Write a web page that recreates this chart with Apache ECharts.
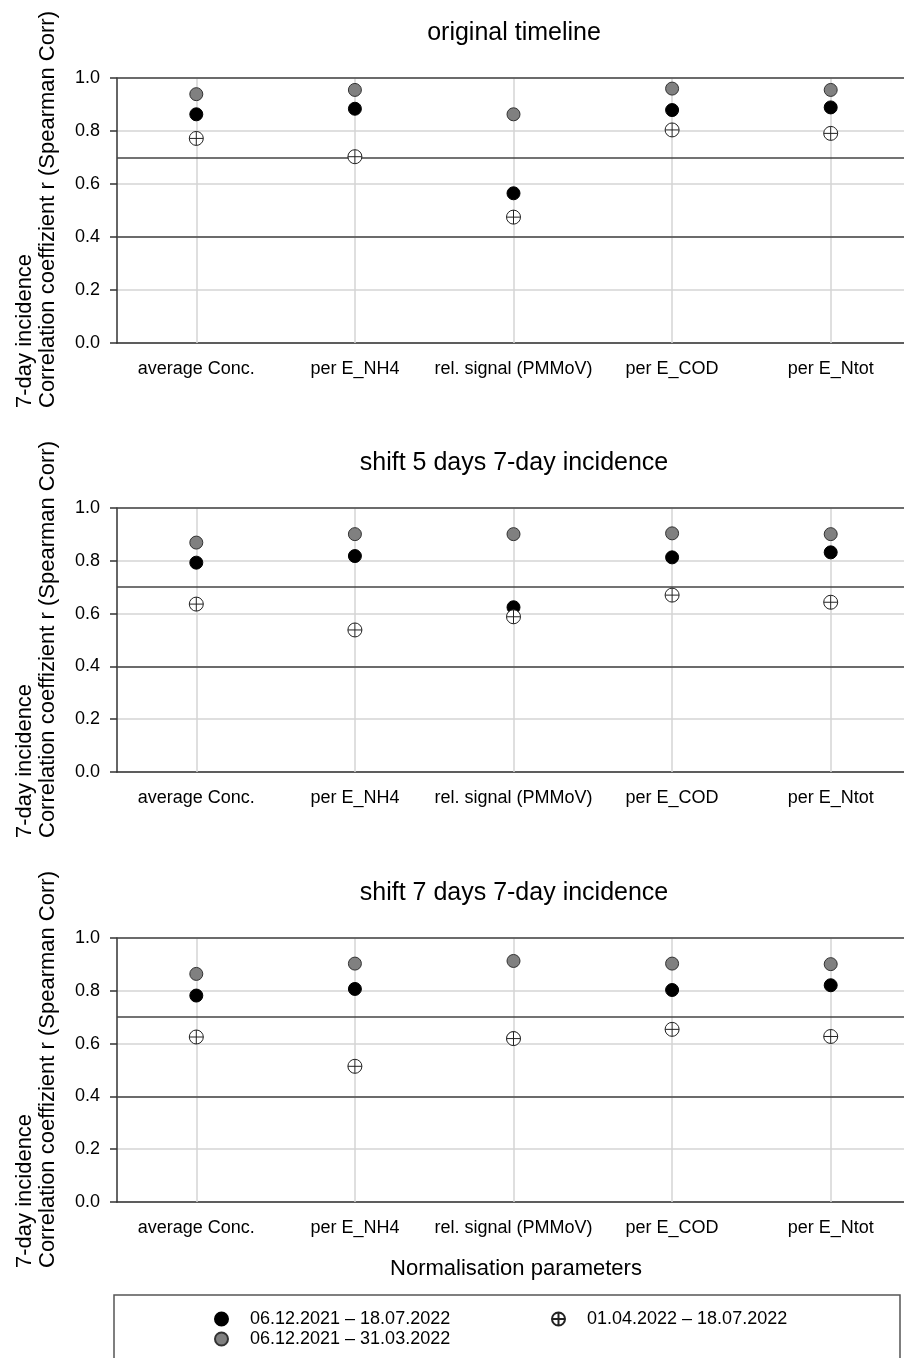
<!DOCTYPE html>
<html>
<head>
<meta charset="utf-8">
<script src="https://cdn.jsdelivr.net/npm/echarts@6/dist/echarts.min.js"></script>
<style>
  html, body { margin: 0; padding: 0; background: #fff; }
  #main { width: 904px; height: 1358px; }
</style>
</head>
<body>
<div id="main"></div>
<script>
// categories and panel titles
var categories = ['average Conc.', 'per E_NH4', 'rel. signal (PMMoV)', 'per E_COD', 'per E_Ntot'];
var panelTitles = ['original timeline', 'shift 5 days 7-day incidence', 'shift 7 days 7-day incidence'];
var refLines = [0.4, 0.7, 1.0];

// legend names
var nameFull = '06.12.2021 \u2013 18.07.2022';
var nameFirst = '06.12.2021 \u2013 31.03.2022';
var nameSecond = '01.04.2022 \u2013 18.07.2022';

// values, one row per panel
var fullPeriod = [
	[0.863, 0.884, 0.565, 0.879, 0.889],
	[0.793, 0.818, 0.624, 0.813, 0.832],
	[0.782, 0.807, 0.620, 0.803, 0.821]
];
var firstPeriod = [
	[0.939, 0.955, 0.863, 0.960, 0.955],
	[0.869, 0.901, 0.901, 0.904, 0.901],
	[0.864, 0.903, 0.913, 0.903, 0.901]
];
var secondPeriod = [
	[0.772, 0.703, 0.475, 0.804, 0.791],
	[0.636, 0.538, 0.588, 0.670, 0.643],
	[0.625, 0.514, 0.619, 0.654, 0.627]
];

var FONT = '"Liberation Sans", Arial, sans-serif';
var crossPath = 'path://M1,11 A10,10 0 1,1 21,11 A10,10 0 1,1 1,11 Z M1,11 L21,11 M11,1 L11,21';
var gridTops = [78, 508, 938];
var gridHeights = [265, 264, 264];

var myChart = echarts.init(document.getElementById('main'));

var grids = [], xAxes = [], yAxes = [], series = [], titles = [], graphics = [];
for (var i = 0; i < 3; i++) {
	grids.push({ left: 117, width: 793, top: gridTops[i], height: gridHeights[i], outerBoundsMode: 'none', containLabel: false });
	titles.push({
		text: panelTitles[i],
		left: 514,
		textAlign: 'center',
		top: gridTops[i] - 57,
		padding: 0,
		textStyle: { fontFamily: FONT, fontSize: 25, fontWeight: 'normal', color: '#000' }
	});
	xAxes.push({
		type: 'category',
		gridIndex: i,
		data: categories,
		axisLine: { lineStyle: { color: '#333', width: 1.5 } },
		axisTick: { alignWithLabel: true, length: 7, lineStyle: { color: '#333', width: 1.5 } },
		axisLabel: { interval: 0, fontFamily: FONT, fontSize: 18, color: '#000', margin: 17 },
		splitLine: { show: false }
	});
	yAxes.push({
		type: 'value',
		gridIndex: i,
		min: 0,
		max: 1,
		interval: 0.2,
		axisLine: { show: true, lineStyle: { color: '#333', width: 1.5 } },
		axisTick: { show: true, length: 7, lineStyle: { color: '#333', width: 1.5 } },
		axisLabel: {
			fontFamily: FONT, fontSize: 18, color: '#000', margin: 17,
			formatter: function (v) { return v.toFixed(1); }
		},
		splitLine: { show: true, lineStyle: { color: '#d4d4d4', width: 1.5 } }
	});
	// reference lines and vertical grid lines, kept under the points
	series.push({
		type: 'scatter',
		xAxisIndex: i,
		yAxisIndex: i,
		data: [],
		silent: true,
		z: 1,
		markLine: {
			z: 1,
			symbol: ['none', 'none'],
			silent: true,
			label: { show: false },
			animation: false,
			data: categories.map(function (c) {
				return { xAxis: c, lineStyle: { color: '#d4d4d4', width: 1.5, type: 'solid' } };
			}).concat(refLines.map(function (v) {
				return { yAxis: v, lineStyle: { color: '#444', width: 1.5, type: 'solid' } };
			}))
		}
	});
	series.push({
		name: nameFirst, type: 'scatter', xAxisIndex: i, yAxisIndex: i,
		data: firstPeriod[i], symbol: 'circle', symbolSize: 13, z: 3,
		itemStyle: { color: '#808080', borderColor: '#333', borderWidth: 1, opacity: 1 }
	});
	series.push({
		name: nameFull, type: 'scatter', xAxisIndex: i, yAxisIndex: i,
		data: fullPeriod[i], symbol: 'circle', symbolSize: 13, z: 4,
		itemStyle: { color: '#000', borderColor: '#000', borderWidth: 1, opacity: 1 }
	});
	series.push({
		name: nameSecond, type: 'scatter', xAxisIndex: i, yAxisIndex: i,
		data: secondPeriod[i], symbol: crossPath, symbolSize: 14, z: 5,
		itemStyle: { color: '#fff', borderColor: '#222', borderWidth: 1, opacity: 1 }
	});
	// y axis title, two lines
	graphics.push({
		type: 'text',
		x: 13,
		y: gridTops[i] + 330,
		rotation: Math.PI / 2,
		style: {
			text: '7-day incidence\nCorrelation coeffizient r (Spearman Corr)',
			font: '22px ' + FONT,
			fill: '#000',
			align: 'left',
			verticalAlign: 'top',
			lineHeight: 23
		}
	});
}

titles.push({
	text: 'Normalisation parameters',
	left: 516,
	textAlign: 'center',
	top: 1258,
	padding: 0,
	textStyle: { fontFamily: FONT, fontSize: 22, fontWeight: 'normal', color: '#000' }
});

graphics.push({
	type: 'rect',
	shape: { x: 114, y: 1295, width: 786, height: 90 },
	style: { fill: 'none', stroke: '#555', lineWidth: 1.5 }
});

var legendText = { fontFamily: FONT, fontSize: 18, color: '#000', padding: [0, 0, 0, 17] };

var option = {
	backgroundColor: '#fff',
	animation: false,
	title: titles,
	grid: grids,
	xAxis: xAxes,
	yAxis: yAxes,
	series: series,
	graphic: graphics,
	legend: [{
		orient: 'vertical',
		left: 209,
		top: 1305,
		itemWidth: 13,
		itemHeight: 13,
		itemGap: 2,
		selectedMode: false,
		data: [{ name: nameFull, icon: 'circle' }, { name: nameFirst, icon: 'circle' }],
		textStyle: legendText
	}, {
		orient: 'vertical',
		left: 546,
		top: 1305,
		itemWidth: 13,
		itemHeight: 13,
		itemGap: 2,
		selectedMode: false,
		data: [{ name: nameSecond, icon: crossPath }],
		textStyle: legendText
	}]
};
myChart.setOption(option);
</script>
</body>
</html>
